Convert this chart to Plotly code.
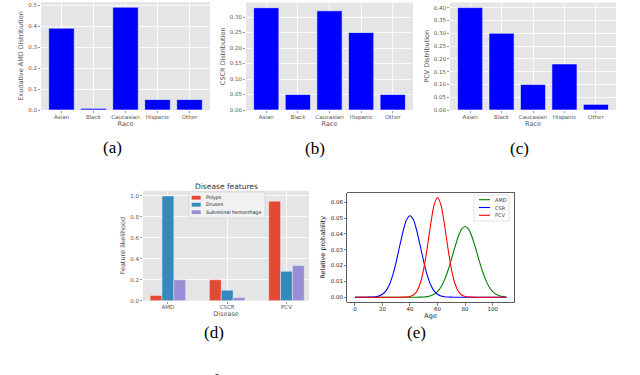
import plotly.graph_objects as go

W, H = 640, 375


def px(x):
    return x / W


def py(y):
    return 1 - y / H


# ---------------- data ----------------
races = ["Asian", "Black", "Caucasian", "Hispanic", "Other"]
race_pos = [0, 1, 2, 3, 4]
amd_dist = [0.39, 0.008, 0.49, 0.05, 0.05]
cscr_dist = [0.33, 0.05, 0.32, 0.25, 0.05]
pcv_dist = [0.40, 0.30, 0.10, 0.18, 0.022]

diseases = ["AMD", "CSCR", "PCV"]
disease_pos = [0, 1, 2]
feat_names = ["Polyps", "Drusen", "Subretinal hemorrhage"]
polyps = [0.05, 0.20, 0.95]
drusen = [1.0, 0.10, 0.28]
subretinal = [0.20, 0.03, 0.335]

ages = [0, 2.5, 5, 7.5, 10, 12.5, 15, 17.5, 20, 22.5, 25, 27.5, 30, 32.5, 35, 37.5,
        40, 42.5, 45, 47.5, 50, 52.5, 55, 57.5, 60, 62.5, 65, 67.5, 70, 72.5, 75,
        77.5, 80, 82.5, 85, 87.5, 90, 92.5, 95, 97.5, 100, 102.5, 105, 107.5, 110]
amd_prob = [0, 0, 0, 0, 0, 0, 0, 0, 0, 0, 0, 0, 0, 0, 0, 0,
            0, 0, 0.00002, 0.00006, 0.00015, 0.00038, 0.00086, 0.00183, 0.0036, 0.0065,
            0.0108, 0.0167, 0.0238, 0.0313, 0.0382, 0.0430, 0.0447, 0.0430, 0.0382,
            0.0313, 0.0238, 0.0167, 0.0108, 0.0065, 0.0036, 0.00183, 0.00086, 0.00038, 0.00015]
csr_prob = [0, 0, 0, 0.00001, 0.00003, 0.0001, 0.00028, 0.00076, 0.00184, 0.0040,
            0.0079, 0.0140, 0.0224, 0.0322, 0.0418, 0.0489, 0.0515, 0.0489, 0.0418,
            0.0322, 0.0224, 0.0140, 0.0079, 0.0040, 0.00184, 0.00076, 0.00028, 0.0001,
            0.00003, 0.00001, 0, 0, 0, 0, 0, 0, 0, 0, 0, 0, 0, 0, 0, 0, 0]
pcv_prob = [0, 0, 0, 0, 0, 0, 0, 0, 0, 0, 0, 0, 0, 0, 0.00003, 0.00011, 0.00043,
            0.00138, 0.0038, 0.0090, 0.0181, 0.0312, 0.0461, 0.0583, 0.063, 0.0583,
            0.0461, 0.0312, 0.0181, 0.0090, 0.0038, 0.00138, 0.00043, 0.00011, 0.00003,
            0, 0, 0, 0, 0, 0, 0, 0, 0, 0]

# ---------------- styles ----------------
GG_BG = "#E5E5E5"
GG_TXT = "#555555"
BLUE = "#0000FF"
FEAT_COLORS = ["#E24A33", "#348ABD", "#988ED5"]
CURVE_COLORS = ["#008000", "#0000FF", "#FF0000"]
TICK_FONT = dict(family="DejaVu Sans", size=5.5, color=GG_TXT)
TITLE_FONT = dict(family="DejaVu Sans", size=6.5, color=GG_TXT)

fig = go.Figure()

race_panels = [
    ("x", "y", amd_dist, "Exudative AMD Distribution", [41, 210], [110, 2], 0.5145, 0.1, ".1f"),
    ("x2", "y2", cscr_dist, "CSCR Distribution", [246, 413], [110, 2.6], 0.3465, 0.05, ".2f"),
    ("x3", "y3", pcv_dist, "PCV Distribution", [450, 616], [110, 2.5], 0.42, 0.05, ".2f"),
]

layout_axes = {}
shapes = []
annotations = []


def gg_axes(i, xdom, ydom, xrng, yrng, dtick, fmt, tickvals, ticktext, xtitle, ytitle):
    sx = "" if i == 1 else str(i)
    layout_axes["xaxis" + sx] = dict(
        domain=[px(xdom[0]), px(xdom[1])], range=xrng, anchor="y" + sx,
        tickvals=tickvals, ticktext=ticktext, showgrid=True, gridcolor="white",
        gridwidth=0.8, ticks="outside", ticklen=2, tickwidth=0.6, tickcolor=GG_TXT,
        tickfont=TICK_FONT, zeroline=False, showline=False, ticklabelstandoff=-1,
        title=dict(text=xtitle, font=TITLE_FONT, standoff=1))
    layout_axes["yaxis" + sx] = dict(
        domain=[py(ydom[0]), py(ydom[1])], range=yrng, anchor="x" + sx,
        dtick=dtick, tick0=0, tickformat=fmt, showgrid=True, gridcolor="white",
        gridwidth=0.8, ticks="outside", ticklen=2, tickwidth=0.6, tickcolor=GG_TXT,
        tickfont=TICK_FONT, zeroline=False, showline=False,
        title=dict(text=ytitle, font=TITLE_FONT, standoff=3))
    shapes.append(dict(type="rect", xref="x" + sx + " domain", yref="y" + sx + " domain",
                       x0=0, x1=1, y0=0, y1=1, fillcolor=GG_BG, line=dict(width=0),
                       layer="below"))


for i, (xa, ya, vals, ytitle, xd, yd, ytop, dt, fmt) in enumerate(race_panels, start=1):
    fig.add_trace(go.Bar(x=race_pos, y=vals, width=0.8, marker=dict(color=BLUE,
                  line=dict(color="white", width=0.6)), xaxis=xa, yaxis=ya,
                  showlegend=False, name=ytitle))
    gg_axes(i, xd, yd, [-0.64, 4.64], [0, ytop], dt, fmt, race_pos, races, "Race", ytitle)

# panel (d)
feat_vals = [polyps, drusen, subretinal]
offsets = [-0.3, -0.1, 0.1]
for name, vals, col, off in zip(feat_names, feat_vals, FEAT_COLORS, offsets):
    fig.add_trace(go.Bar(x=disease_pos, y=vals, width=0.2, offset=off,
                         marker=dict(color=col, line=dict(color="white", width=0.4)),
                         xaxis="x4", yaxis="y4", name=name, showlegend=False))
gg_axes(4, [143, 309], [300.7, 190.7], [-0.42, 2.38], [0, 1.05], 0.2, ".1f",
        disease_pos, diseases, "Disease", "Feature likelihood")

annotations.append(dict(text="Disease features", x=px(226.5), y=py(186), xref="paper",
                        yref="paper", showarrow=False, xanchor="center", yanchor="middle",
                        font=dict(family="DejaVu Sans", size=7.5, color="#333333")))

# manual legend for (d)
shapes.append(dict(type="rect", xref="paper", yref="paper", x0=px(189), x1=px(265),
                   y0=py(218), y1=py(192), fillcolor="rgba(242,242,242,0.9)",
                   line=dict(color="#CCCCCC", width=0.6), layer="above"))
for name, col, yc in zip(feat_names, FEAT_COLORS, [197.7, 204.7, 212.2]):
    shapes.append(dict(type="rect", xref="paper", yref="paper", x0=px(191.7), x1=px(200.7),
                       y0=py(yc + 1.9), y1=py(yc - 1.9), fillcolor=col,
                       line=dict(width=0), layer="above"))
    annotations.append(dict(text=name, x=px(204), y=py(yc), xref="paper", yref="paper",
                            showarrow=False, xanchor="left", yanchor="middle",
                            font=dict(family="DejaVu Sans", size=4.8, color="#222222")))

# panel (e)
curve_names = ["AMD", "CSR", "PCV"]
for name, vals, col in zip(curve_names, [amd_prob, csr_prob, pcv_prob], CURVE_COLORS):
    fig.add_trace(go.Scatter(x=ages, y=vals, mode="lines", name=name,
                             line=dict(color=col, width=1.1, shape="spline", smoothing=0.6),
                             xaxis="x5", yaxis="y5", showlegend=False))
E_TICK = dict(family="DejaVu Sans", size=5.5, color="#222222")
layout_axes["xaxis5"] = dict(domain=[px(347.3), px(514)], range=[-5.5, 115.5], anchor="y5",
                             dtick=20, tick0=0, showgrid=False, zeroline=False,
                             showline=True, mirror=True, linecolor="#333333", linewidth=0.8,
                             ticks="outside", ticklen=2.5, tickwidth=0.6, tickcolor="#333333",
                             tickfont=E_TICK, ticklabelstandoff=-1,
                             title=dict(text="Age", font=dict(family="DejaVu Sans", size=6.5,
                                                               color="#222222"), standoff=1))
layout_axes["yaxis5"] = dict(domain=[py(302.2), py(192.5)], range=[-0.00315, 0.06615],
                             anchor="x5", dtick=0.01, tick0=0, tickformat=".2f",
                             showgrid=False, zeroline=False, showline=True, mirror=True,
                             linecolor="#333333", linewidth=0.8, ticks="outside", ticklen=2.5,
                             tickwidth=0.6, tickcolor="#333333", tickfont=E_TICK,
                             title=dict(text="Relative probability",
                                        font=dict(family="DejaVu Sans", size=6.5,
                                                  color="#222222"), standoff=4))

# manual legend for (e)
shapes.append(dict(type="rect", xref="paper", yref="paper", x0=px(474), x1=px(509),
                   y0=py(221), y1=py(195), fillcolor="rgba(255,255,255,0.8)",
                   line=dict(color="#CCCCCC", width=0.6), layer="above"))
for name, col, yc in zip(curve_names, CURVE_COLORS, [199.7, 207.5, 215.3]):
    shapes.append(dict(type="line", xref="paper", yref="paper", x0=px(479), x1=px(490),
                       y0=py(yc), y1=py(yc), line=dict(color=col, width=1.1), layer="above"))
    annotations.append(dict(text=name, x=px(493), y=py(yc), xref="paper", yref="paper",
                            showarrow=False, xanchor="left", yanchor="middle",
                            font=dict(family="DejaVu Sans", size=5, color="#333333")))

# captions
for lab, cx, cy in [("(a)", 112, 147), ("(b)", 315, 148), ("(c)", 519, 148),
                    ("(d)", 214, 332), ("(e)", 416, 332)]:
    annotations.append(dict(text=lab, x=px(cx), y=py(cy), xref="paper", yref="paper",
                            showarrow=False, xanchor="center", yanchor="middle",
                            font=dict(family="Liberation Serif", size=17, color="black")))

annotations.append(dict(
    text="Fig. 1: Racial Distribution of Exudative Age Related Macular Degeneration (AMD), Central",
    x=px(2), y=py(369.5), xref="paper", yref="paper", showarrow=False, xanchor="left",
    yanchor="top", font=dict(family="Liberation Serif", size=18.5, color="black")))

fig.update_layout(
    template="none",
    width=W, height=H, margin=dict(l=0, r=0, t=0, b=0),
    paper_bgcolor="white", plot_bgcolor="white", showlegend=False,
    shapes=shapes, annotations=annotations, bargap=0, **layout_axes)

fig.write_html("out.html", config={"displayModeBar": False, "staticPlot": True},
               post_script="document.body.style.margin='0';document.body.style.overflow='hidden';")
